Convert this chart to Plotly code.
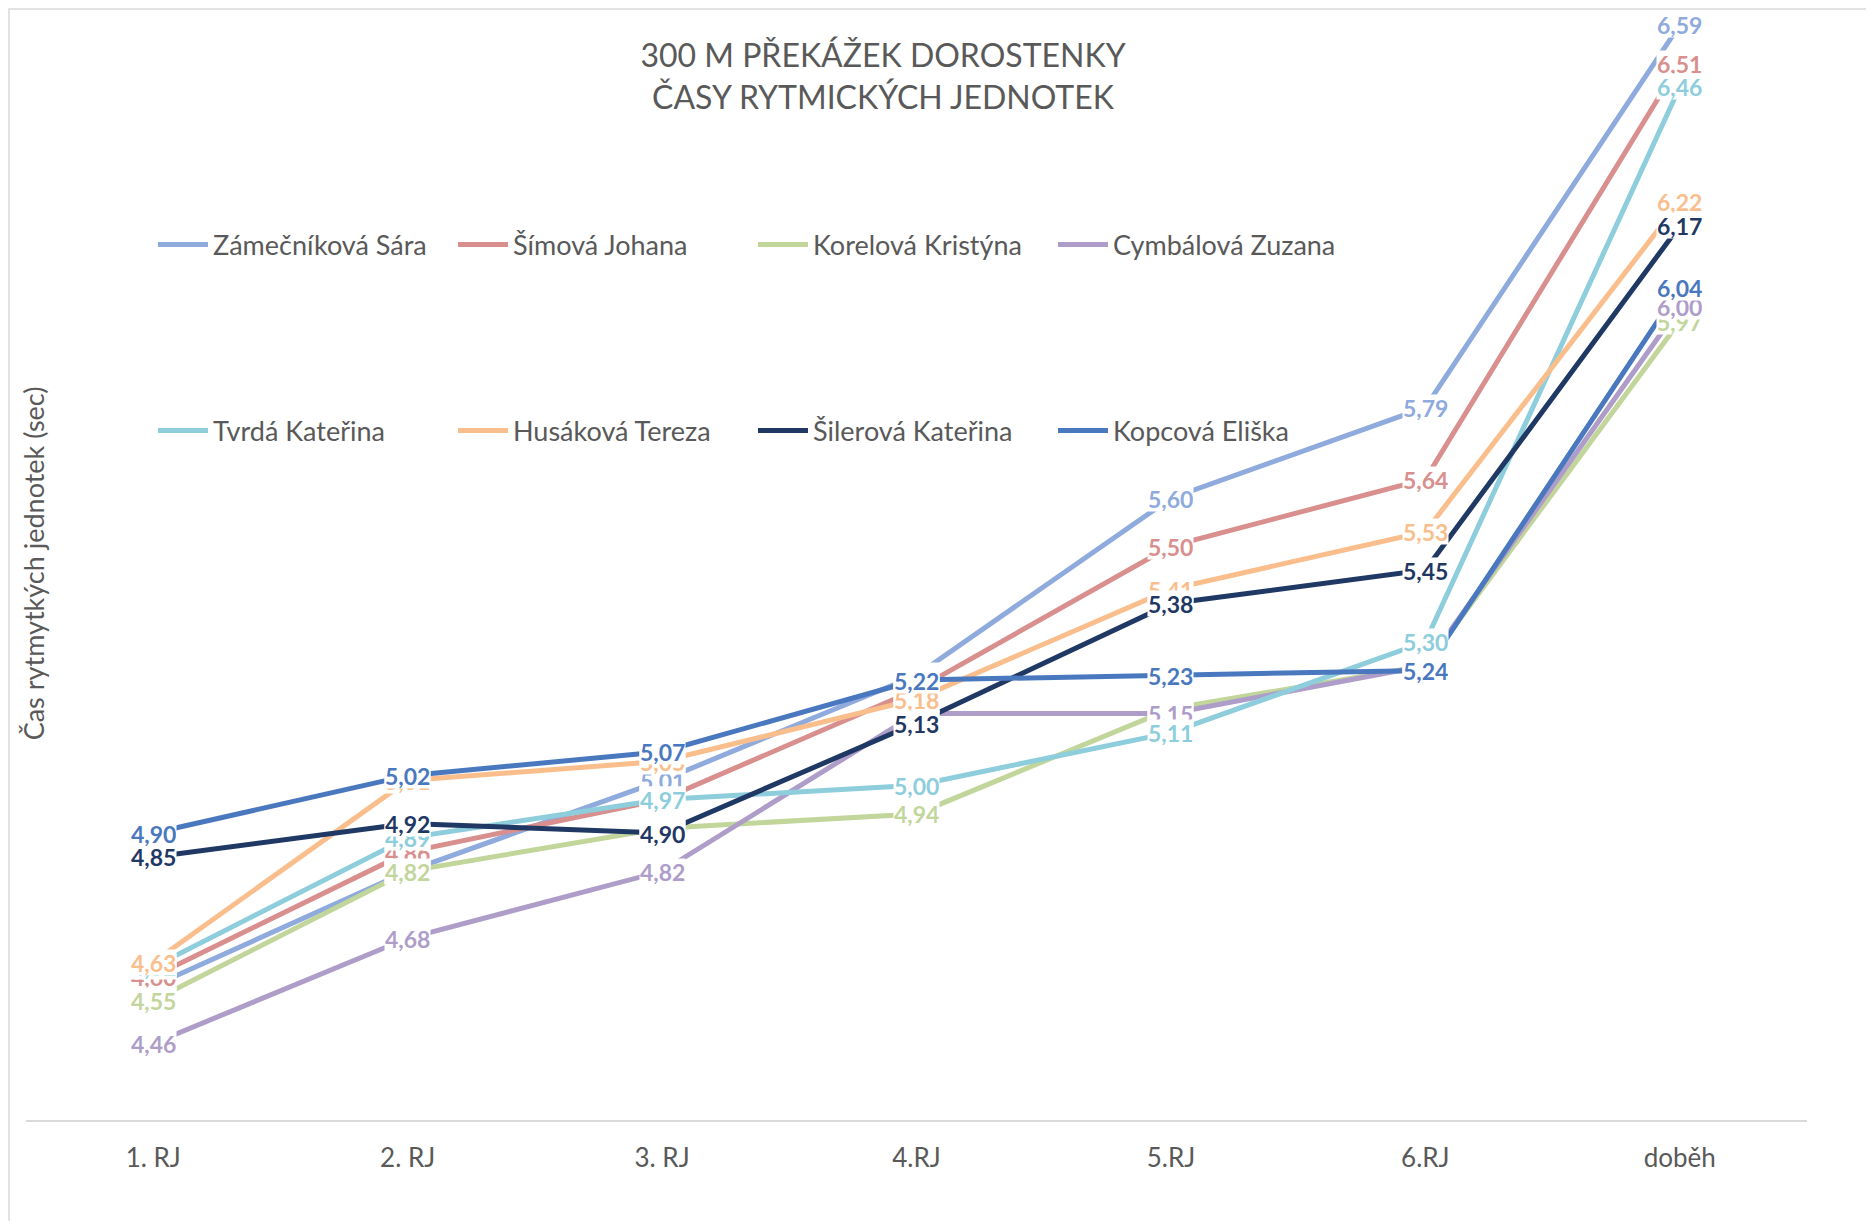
import plotly.graph_objects as go

categories = ["1. RJ", "2. RJ", "3. RJ", "4.RJ", "5.RJ", "6.RJ", "doběh"]

names = [
    "Zámečníková Sára", "Šímová Johana", "Korelová Kristýna", "Cymbálová Zuzana",
    "Tvrdá Kateřina", "Husáková Tereza", "Šilerová Kateřina", "Kopcová Eliška",
]

zamecnikova = [4.58, 4.82, 5.01, 5.23, 5.60, 5.79, 6.59]
simova = [4.60, 4.86, 4.97, 5.20, 5.50, 5.64, 6.51]
korelova = [4.55, 4.82, 4.91, 4.94, 5.16, 5.25, 5.97]
cymbalova = [4.46, 4.68, 4.82, 5.15, 5.15, 5.25, 6.00]
tvrda = [4.62, 4.89, 4.97, 5.00, 5.11, 5.30, 6.46]
husakova = [4.63, 5.01, 5.05, 5.18, 5.41, 5.53, 6.22]
silerova = [4.85, 4.92, 4.90, 5.13, 5.38, 5.45, 6.17]
kopcova = [4.90, 5.02, 5.07, 5.22, 5.23, 5.24, 6.04]

series = [zamecnikova, simova, korelova, cymbalova, tvrda, husakova, silerova, kopcova]

colors = ["#8FAADC", "#D88F8D", "#C2D69B", "#AE9DC9",
          "#8DCDDC", "#F9BE8C", "#1F3864", "#4A78BE"]

FONT = "Lato"
GREY = "#595959"

fig = go.Figure()

for i, (name, vals, col) in enumerate(zip(names, series, colors)):
    fig.add_trace(go.Scatter(
        x=categories, y=vals, mode="lines", name=name,
        line=dict(color=col, width=5),
        legend="legend" if i < 4 else "legend2",
        hoverinfo="skip",
    ))

for vals, col in zip(series, colors):
    for cat, v in zip(categories, vals):
        fig.add_annotation(
            x=cat, y=v, text="<b>" + f"{v:.2f}".replace(".", ",") + "</b>",
            showarrow=False, xanchor="center", yanchor="middle",
            font=dict(family=FONT, size=23, color=col),
            bgcolor="white", borderpad=0, height=25, valign="middle",
        )

# y-axis title
fig.add_annotation(
    text="Čas rytmytkých jednotek (sec)", textangle=-90,
    xref="paper", yref="paper", x=0.0039, y=0.506,
    xanchor="center", yanchor="middle", showarrow=False,
    font=dict(family=FONT, size=27, color=GREY),
)

# chart border (left and top visible)
fig.add_shape(type="rect", xref="paper", yref="paper",
              x0=-0.00955, x1=1.2, y0=-0.2, y1=1.01,
              line=dict(color="#D9D9D9", width=1.5), layer="below")

legend_common = dict(
    orientation="h", xref="paper", yref="paper",
    xanchor="left", yanchor="middle",
    entrywidth=235, entrywidthmode="pixels",
    font=dict(family=FONT, size=27, color=GREY),
    bgcolor="rgba(0,0,0,0)", itemwidth=50, traceorder="normal",
)

fig.update_layout(
    width=1874, height=1221,
    margin=dict(l=18, r=75, t=12, b=109, autoexpand=False),
    paper_bgcolor="white", plot_bgcolor="white",
    font=dict(family=FONT, color=GREY),
    title=dict(
        text="300 M PŘEKÁŽEK DOROSTENKY<br>ČASY RYTMICKÝCH JEDNOTEK",
        x=875 / 1874, xanchor="center", xref="container",
        y=1 - 59 / 1221, yanchor="top", yref="container",
        font=dict(family=FONT, size=32, color=GREY),
    ),
    xaxis=dict(
        type="category", range=[-0.5, 6.5],
        showgrid=False, zeroline=False,
        showline=True, linecolor="#D9D9D9", linewidth=2,
        ticks="", ticklabelstandoff=14,
        tickfont=dict(family=FONT, size=26, color=GREY),
    ),
    yaxis=dict(
        range=[4.3, 6.6], showgrid=False, zeroline=False,
        showline=False, showticklabels=False, ticks="",
    ),
    legend=dict(x=0.0713, y=0.7955, **legend_common),
    legend2=dict(x=0.0713, y=0.6264, **legend_common),
    showlegend=True,
)

fig.write_html("out.html")
